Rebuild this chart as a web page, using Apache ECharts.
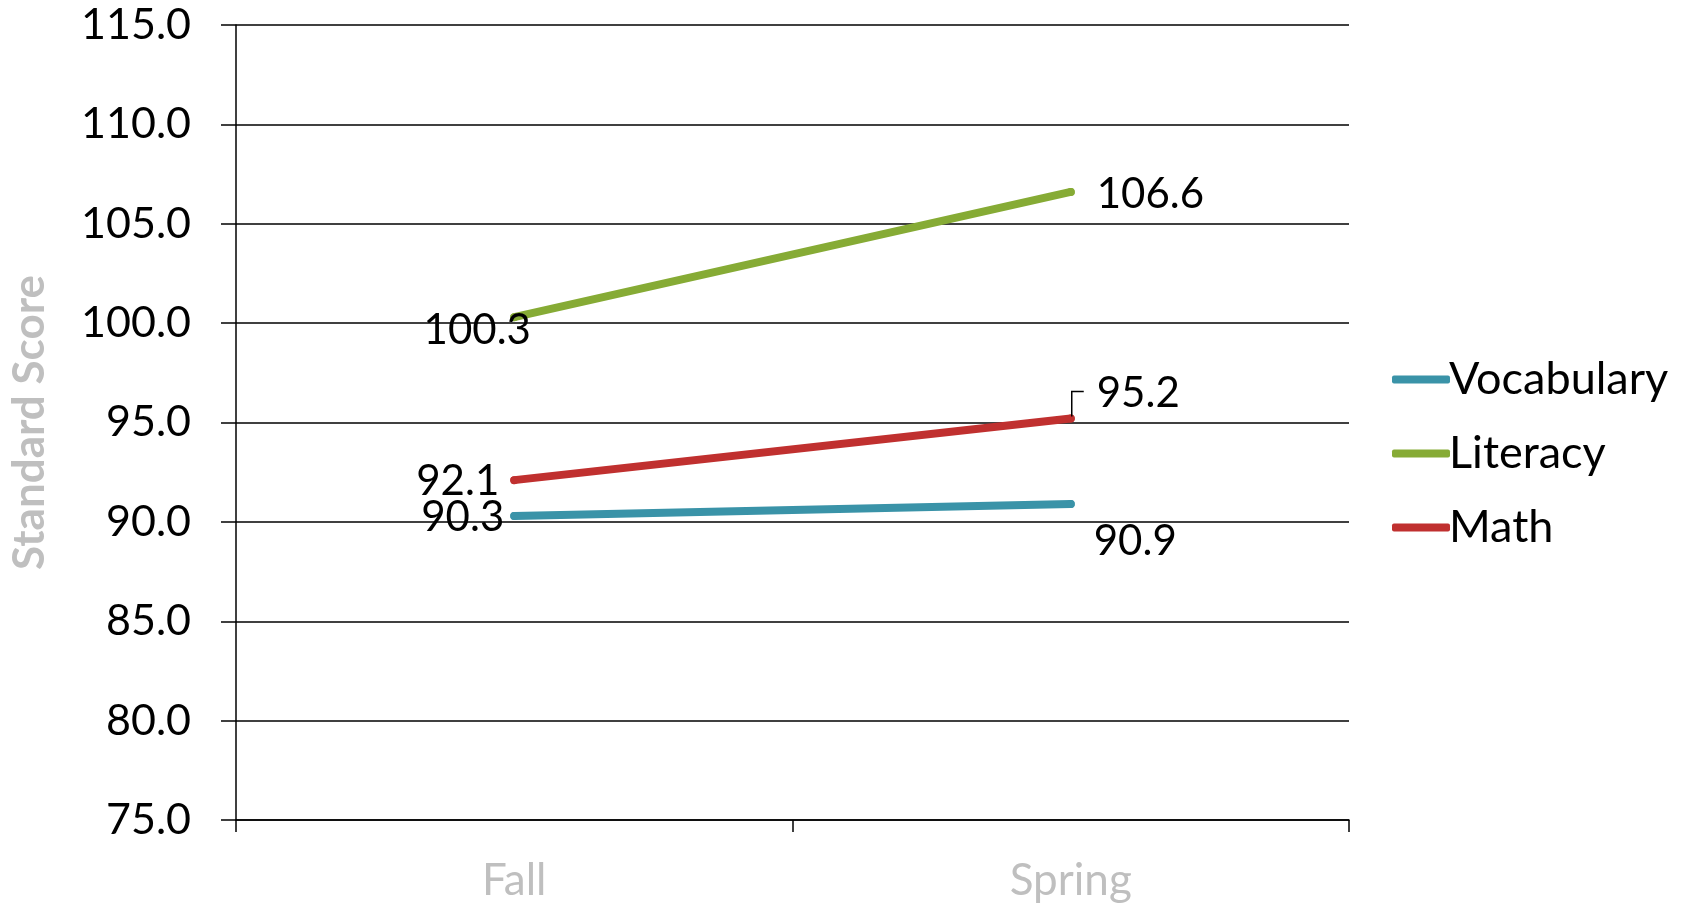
<!DOCTYPE html>
<html>
<head>
<meta charset="utf-8">
<script src="https://cdn.jsdelivr.net/npm/echarts@6/dist/echarts.min.js"></script>
<style>
  html, body { margin: 0; padding: 0; background: #fff; }
  #chart { width: 1686px; height: 905px; }
</style>
</head>
<body>
<div id="chart"></div>
<script>
// Terms on the category axis
const terms = ['Fall', 'Spring'];

// Mean standard scores per domain
const vocabulary = [90.3, 90.9];
const literacy = [100.3, 106.6];
const math = [92.1, 95.2];

// Value axis range
const yMin = 75;
const yMax = 115;
const yStep = 5;

const FONT = 'Lato, "Noto Sans", sans-serif';
const labelBase = { show: true, color: '#000', fontSize: 42, fontFamily: FONT, formatter: p => p.value.toFixed(1) };

// Per-point label placement (Fall / Spring)
const vocabLabels = [
  { position: 'left', distance: 6, offset: [0, 2] },
  { position: 'right', distance: 19, offset: [0, 37] }
];
const literacyLabels = [
  { position: 'inside', offset: [-37, 13] },
  { position: 'right', distance: 22, offset: [0, 3] }
];
const mathLabels = [
  { position: 'left', distance: 11, offset: [0, 1] },
  { position: 'right', distance: 22, offset: [0, -25] }
];

function buildData(values, labels) {
  return values.map((v, i) => ({ value: v, label: Object.assign({}, labelBase, labels[i]) }));
}

function lineSeries(name, color, values, labels) {
  return {
    name: name,
    type: 'line',
    symbol: 'circle',
    symbolSize: 8,
    showSymbol: true,
    data: buildData(values, labels),
    lineStyle: { color: color, width: 8, cap: 'round' },
    itemStyle: { color: color, borderWidth: 0 },
    label: labelBase,
    z: 3
  };
}

const chart = echarts.init(document.getElementById('chart'), null, { renderer: 'canvas' });

chart.setOption({
  animation: false,
  backgroundColor: '#fff',
  grid: { left: 236, right: 337, top: 25, bottom: 85, containLabel: false, outerBoundsMode: 'none' },
  legend: {
    orient: 'vertical',
    left: 1387,
    top: 352,
    itemWidth: 58,
    itemHeight: 8,
    itemGap: 29,
    icon: 'roundRect',
    textStyle: { fontSize: 45, fontFamily: FONT, color: '#000', padding: [0, 0, 0, -6] },
    data: ['Vocabulary', 'Literacy', 'Math']
  },
  xAxis: {
    type: 'category',
    data: terms,
    boundaryGap: true,
    axisLine: { lineStyle: { color: '#000', width: 1.5 } },
    axisTick: { show: true, length: 12, lineStyle: { color: '#000', width: 1.5 } },
    axisLabel: { color: '#bfbfbf', fontSize: 44, fontFamily: FONT, margin: 39 }
  },
  yAxis: {
    type: 'value',
    min: yMin,
    max: yMax,
    interval: yStep,
    name: 'Standard Score',
    nameLocation: 'middle',
    nameGap: 184,
    nameTextStyle: { color: '#bfbfbf', fontSize: 44, fontWeight: 'bold', fontFamily: FONT },
    axisLine: { show: true, lineStyle: { color: '#000', width: 1.5 } },
    axisTick: { show: true, inside: false, length: 15, lineStyle: { color: '#000', width: 1.5 } },
    splitLine: { show: true, lineStyle: { color: '#000', width: 1.5 } },
    axisLabel: { color: '#000', fontSize: 43, fontFamily: FONT, margin: 45, formatter: v => v.toFixed(1) }
  },
  series: [
    lineSeries('Vocabulary', '#3a93a8', vocabulary, vocabLabels),
    lineSeries('Literacy', '#86ab35', literacy, literacyLabels),
    lineSeries('Math', '#c0302f', math, mathLabels)
  ]
});

// Small elbow leader from the spring Math point to its raised label
const p = chart.convertToPixel({ seriesIndex: 2 }, [1, math[1]]);
chart.setOption({
  graphic: [{
    type: 'polyline',
    shape: { points: [[p[0] + 1, p[1] - 2], [p[0] + 1, p[1] - 27], [p[0] + 13, p[1] - 27]] },
    style: { stroke: '#000', lineWidth: 1.5, fill: null },
    z: 10
  }]
});
</script>
</body>
</html>
